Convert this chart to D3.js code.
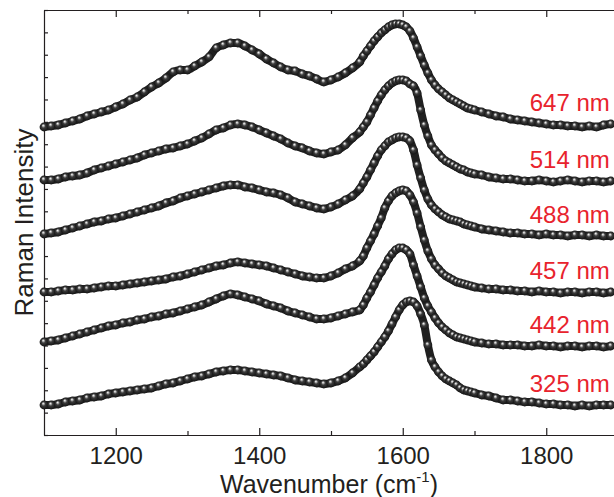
<!DOCTYPE html>
<html>
<head>
<meta charset="utf-8">
<script src="https://cdn.jsdelivr.net/npm/d3@7"></script>
<style>
  body { margin: 0; background: #fff; }
  svg text { font-family: "Liberation Sans", Arial, sans-serif; }
  .axis path, .axis line { stroke: #231f20; stroke-width: 1.2; }
  .axis text { font-size: 24px; fill: #231f20; }
</style>
</head>
<body>
<div id="chart"></div>
<script>
// wavenumbers (cm^-1), denser sampling across the G band
const wavenumbers = [
  1100, 1110, 1120, 1130, 1140, 1150, 1160, 1170, 1180, 1190, 1200, 1210, 1220, 1230, 1240,
  1250, 1260, 1270, 1280, 1290, 1300, 1310, 1320, 1330, 1340, 1350, 1360, 1370, 1380, 1390,
  1400, 1410, 1420, 1430, 1440, 1450, 1460, 1470, 1480, 1490, 1500, 1510, 1520, 1530, 1540,
  1545, 1550, 1555, 1560, 1565, 1570, 1575, 1580, 1585, 1590, 1595, 1600, 1605, 1610, 1615,
  1620, 1625, 1630, 1635, 1640, 1645, 1650, 1655, 1660, 1665, 1670, 1675, 1680, 1685, 1690, 1695,
  1700, 1710, 1720, 1730, 1740, 1750, 1760, 1770, 1780, 1790, 1800, 1810, 1820, 1830, 1840,
  1850, 1860, 1870, 1880, 1890
];

const labels = ["647 nm", "514 nm", "488 nm", "457 nm", "442 nm", "325 nm"];

// stacked Raman intensity (a.u., offsets included)
const i647 = [
  308, 309, 310, 312, 314, 316, 319, 321, 323, 325, 328, 331, 335, 338, 343,
  348, 352, 357, 363, 365, 365, 369, 373, 378, 387, 390, 392, 392, 389, 385,
  381, 376, 372, 368, 365, 364, 361, 359, 356, 353, 355, 358, 362, 367, 373,
  379, 384, 389, 394, 398, 402, 405, 408, 410, 411, 411, 410, 408, 404, 397,
  388, 379, 370, 362, 355, 350, 346, 343, 340, 337, 335, 333, 331, 329, 327, 326,
  325, 323, 321, 319, 318, 316, 315, 314, 313, 312, 311, 310, 310, 309, 309,
  308, 309, 308, 310, 311
];
const i514 = [
  255, 255, 256, 258, 259, 260, 262, 265, 267, 269, 271, 273, 275, 277, 280,
  282, 284, 286, 287, 289, 291, 294, 297, 301, 305, 307, 310, 311, 310, 308,
  305, 302, 299, 296, 292, 289, 287, 284, 282, 281, 283, 285, 290, 297, 303,
  308, 313, 320, 327, 334, 340, 345, 349, 352, 354, 355, 355, 354, 351, 349,
  342, 325, 310, 299, 290, 285, 281, 277, 274, 272, 270, 268, 266, 265, 263, 262,
  261, 260, 258, 257, 256, 256, 255, 254, 254, 255, 254, 253, 254, 255, 254,
  253, 254, 254, 253, 254
];
const i488 = [
  201, 202, 203, 205, 207, 209, 211, 213, 214, 216, 217, 219, 221, 223, 225,
  227, 229, 232, 234, 237, 239, 241, 243, 245, 247, 249, 250, 250, 248, 247,
  245, 243, 242, 240, 237, 233, 231, 229, 227, 226, 228, 231, 235, 239, 246,
  252, 258, 265, 272, 279, 285, 289, 293, 295, 297, 298, 298, 297, 294, 285,
  270, 257, 245, 236, 230, 226, 223, 220, 218, 216, 215, 214, 213, 211, 210, 209,
  208, 206, 205, 204, 203, 202, 202, 201, 201, 200, 201, 200, 200, 199, 200,
  200, 199, 200, 199, 199
];
const i457 = [
  143, 143, 144, 145, 145, 146, 146, 147, 148, 149, 149, 150, 151, 152, 153,
  154, 155, 156, 158, 159, 161, 163, 165, 167, 169, 170, 172, 173, 172, 171,
  170, 169, 167, 165, 163, 161, 159, 158, 157, 157, 159, 162, 166, 169, 174,
  179, 187, 194, 201, 209, 217, 227, 234, 239, 242, 244, 245, 244, 240, 233,
  222, 208, 195, 184, 176, 170, 166, 162, 159, 157, 155, 153, 152, 151, 150, 149,
  148, 147, 146, 146, 145, 145, 144, 144, 143, 144, 143, 143, 142, 143, 143,
  142, 143, 143, 142, 143
];
const i442 = [
  93, 94, 95, 97, 99, 101, 103, 105, 107, 109, 110, 112, 113, 115, 116,
  118, 119, 121, 122, 124, 126, 128, 130, 133, 136, 139, 141, 140, 138, 136,
  134, 131, 129, 127, 124, 122, 120, 118, 116, 116, 117, 119, 121, 123, 125,
  130, 137, 143, 150, 157, 163, 169, 176, 181, 185, 187, 187, 185, 181, 170,
  159, 148, 137, 129, 123, 117, 112, 108, 105, 102, 100, 98, 97, 96, 95, 94,
  93, 92, 91, 91, 90, 90, 90, 89, 89, 90, 89, 89, 88, 89, 89,
  88, 89, 89, 88, 89
];
const i325 = [
  30, 30, 31, 33, 34, 35, 37, 38, 39, 41, 42, 43, 44, 45, 46,
  47, 49, 51, 52, 54, 56, 58, 59, 61, 63, 64, 65, 65, 64, 63,
  62, 61, 60, 59, 57, 55, 54, 53, 52, 51, 52, 54, 57, 62, 68,
  71, 75, 79, 83, 88, 93, 98, 104, 111, 118, 125, 130, 133, 134, 133,
  129, 121, 110, 90, 75, 68, 63, 59, 56, 54, 52, 50, 47, 45, 44, 43,
  42, 40, 39, 37, 35, 35, 34, 33, 33, 32, 31, 31, 30, 30, 29,
  30, 29, 30, 30, 30
];
const spectra = [i647, i514, i488, i457, i442, i325];

const xTicks = [1200, 1400, 1600, 1800];
const xMinor = [1300, 1500, 1700];
const yDomain = [0, 425];
const yTickCount = 19;

const W = 614, H = 497;
const margin = { top: 10, right: -4, bottom: 62, left: 44 };
const iw = W - margin.left - margin.right;
const ih = H - margin.top - margin.bottom;

const svg = d3.select("#chart").append("svg").attr("width", W).attr("height", H);

const defs = svg.append("defs");
const grad = defs.append("radialGradient")
  .attr("id", "ball")
  .attr("cx", "50%").attr("cy", "50%").attr("r", "55%")
  .attr("fx", "40%").attr("fy", "30%");
grad.append("stop").attr("offset", "0%").attr("stop-color", "#ffffff");
grad.append("stop").attr("offset", "16%").attr("stop-color", "#bdbdbd");
grad.append("stop").attr("offset", "42%").attr("stop-color", "#3c3c3c");
grad.append("stop").attr("offset", "100%").attr("stop-color", "#0e0e0e");

const g = svg.append("g").attr("transform", `translate(${margin.left},${margin.top})`);

const x = d3.scaleLinear().domain([1100, 1900]).range([0, iw]);
const y = d3.scaleLinear().domain(yDomain).range([ih, 0]);

const yTickVals = d3.range(yTickCount + 1).map(i => yDomain[0] + i * (yDomain[1] - yDomain[0]) / yTickCount);

// axes: ticks point inward, labels only on the bottom
g.append("g").attr("class", "axis").attr("transform", `translate(0,${ih})`)
  .call(d3.axisBottom(x).tickValues(xTicks).tickSize(-7).tickSizeOuter(0).tickPadding(12).tickFormat(d3.format("d")));
g.append("g").attr("class", "axis").attr("transform", `translate(0,${ih})`)
  .call(d3.axisBottom(x).tickValues(xMinor).tickSize(-4).tickSizeOuter(0).tickFormat(""));
g.append("g").attr("class", "axis")
  .call(d3.axisTop(x).tickValues(xTicks).tickSize(-7).tickSizeOuter(0).tickFormat(""));
g.append("g").attr("class", "axis")
  .call(d3.axisTop(x).tickValues(xMinor).tickSize(-4).tickSizeOuter(0).tickFormat(""));
g.append("g").attr("class", "axis")
  .call(d3.axisLeft(y).tickValues(yTickVals).tickSize(-4).tickSizeOuter(0).tickFormat(""));
g.append("g").attr("class", "axis").attr("transform", `translate(${iw},0)`)
  .call(d3.axisRight(y).tickValues(yTickVals).tickSize(-4).tickSizeOuter(0).tickFormat(""));

const line = d3.line().x((d, i) => x(wavenumbers[i])).y(d => y(d)).curve(d3.curveMonotoneX);

spectra.forEach((vals, k) => {
  const s = g.append("g");
  s.append("path")
    .attr("d", line(vals))
    .attr("fill", "none")
    .attr("stroke", "#202020")
    .attr("stroke-width", 8);
  s.selectAll("circle").data(vals).join("circle")
    .attr("cx", (d, i) => x(wavenumbers[i]))
    .attr("cy", d => y(d))
    .attr("r", 4.4)
    .attr("fill", "url(#ball)");

  g.append("text")
    .attr("x", x(1777))
    .attr("y", y(vals[vals.length - 1]) - 13)
    .attr("fill", "#e8232d")
    .attr("font-size", 24)
    .text(labels[k]);
});

// axis titles
const xt = svg.append("text")
  .attr("x", margin.left + x(1500) - 2)
  .attr("y", 493)
  .attr("text-anchor", "middle")
  .attr("font-size", 25)
  .attr("fill", "#231f20");
xt.append("tspan").text("Wavenumber (cm");
xt.append("tspan").attr("font-size", 15).attr("dy", -11).text("-1");
xt.append("tspan").attr("dy", 11).text(")");

svg.append("text")
  .attr("transform", `translate(33,${margin.top + ih / 2}) rotate(-90)`)
  .attr("text-anchor", "middle")
  .attr("font-size", 26)
  .attr("fill", "#231f20")
  .text("Raman Intensity");
</script>
</body>
</html>
